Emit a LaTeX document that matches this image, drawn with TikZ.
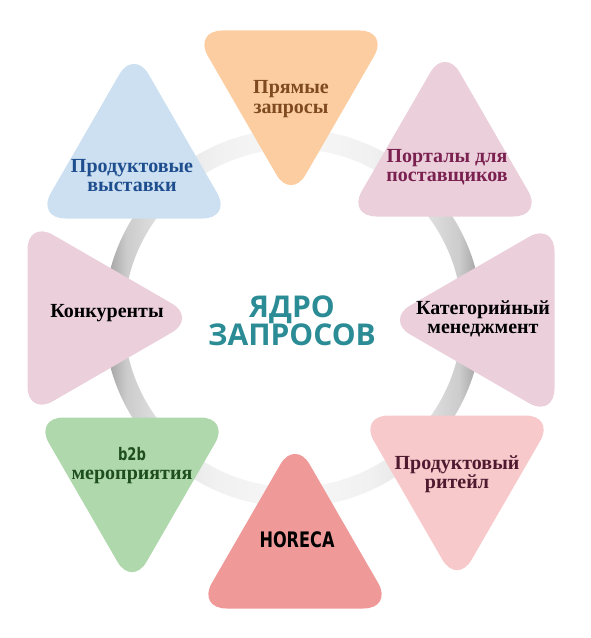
\documentclass[tikz,border=0pt]{standalone}
\usepackage{fontspec}
\setmainfont{Liberation Serif}
\setsansfont{Open Sans}
\newfontfamily\dinfont[FakeStretch=0.84]{DejaVu Sans Condensed}
\usetikzlibrary{calc}
\definecolor{peach}{HTML}{FBCDA0}
\definecolor{mauve}{HTML}{EBD0DC}
\definecolor{rose}{HTML}{F7C9CB}
\definecolor{salmon}{HTML}{EF9A98}
\definecolor{mint}{HTML}{AFD8AC}
\definecolor{sky}{HTML}{CCE0F2}
\definecolor{coretxt}{HTML}{2B8C96}
\definecolor{brntxt}{HTML}{7F4A1F}
\definecolor{plumtxt}{HTML}{7B2150}
\definecolor{wintxt}{HTML}{4F1A30}
\definecolor{grntxt}{HTML}{1E4D1E}
\definecolor{bluetxt}{HTML}{1F4E8E}
\pgfdeclarehorizontalshading{ringshade}{100bp}{%
  color(0bp)=(gray!80); color(25bp)=(gray!80); color(28bp)=(gray!40);
  color(33bp)=(gray!22); color(40bp)=(gray!11); color(50bp)=(gray!6);
  color(60bp)=(gray!11); color(67bp)=(gray!22); color(72bp)=(gray!40);
  color(75bp)=(gray!80); color(100bp)=(gray!80)}
\tikzset{lbl/.style={
  align=center,
  font=\bfseries\fontsize{15}{14.6}\selectfont
}}
\newcommand{\rtri}[3]{% fill, centre, apex angle
  \fill[#1,rounded corners=22pt]
    ($(#2)+(#3:113)$) -- ($(#2)+(#3+120:113)$)
    -- ($(#2)+(#3+240:113)$) -- cycle;}

\begin{document}
\begin{tikzpicture}[x=0.75pt,y=-0.75pt]
    \useasboundingbox (0,0) rectangle (591,638);
    % Ring
    \shade[shading=ringshade,even odd rule]
      (293,318) circle[radius=189] circle[radius=169];
    % Triangles
    \rtri{peach}{291,87}{90}
    \rtri{mauve}{445,160}{-90}
    \rtri{mauve}{498,320}{180}
    \rtri{rose}{457,472}{90}
    \rtri{salmon}{295,552}{-90}
    \rtri{mint}{132,474}{90}
    \rtri{mauve}{84,318}{0}
    \rtri{sky}{134,162}{-90}
    % Labels
    \node[lbl,text=brntxt] (pryam) at (291,99) {Прямые\\запросы};
    \node[lbl,text=plumtxt] (portal) at (447,167) {Порталы для\\поставщиков};
    \node[lbl] (categ) at (483,319) {Категорийный\\менеджмент};
    \node[lbl,text=wintxt] (retail) at (457,474.5) {Продуктовый\\ритейл};
    \node[font=\dinfont\bfseries\fontsize{16}{16}\selectfont] (horeca) at (297,539.5) {HORECA};
    \node[lbl,text=grntxt] (btob) at (132,465.5)
      {{\dinfont\fontsize{13}{14.6}\selectfont b2b}\\мероприятия};
    \node[lbl] (konk) at (107,313.5) {Конкуренты};
    \node[lbl,text=bluetxt] (expo) at (132,175.5) {Продуктовые\\выставки};
    \node[font=\sffamily\bfseries\fontsize{22.5}{21}\selectfont,
      align=center,text=coretxt] (core) at (292,320.5) {ЯДРО\\ЗАПРОСОВ};
\end{tikzpicture}
\end{document}
